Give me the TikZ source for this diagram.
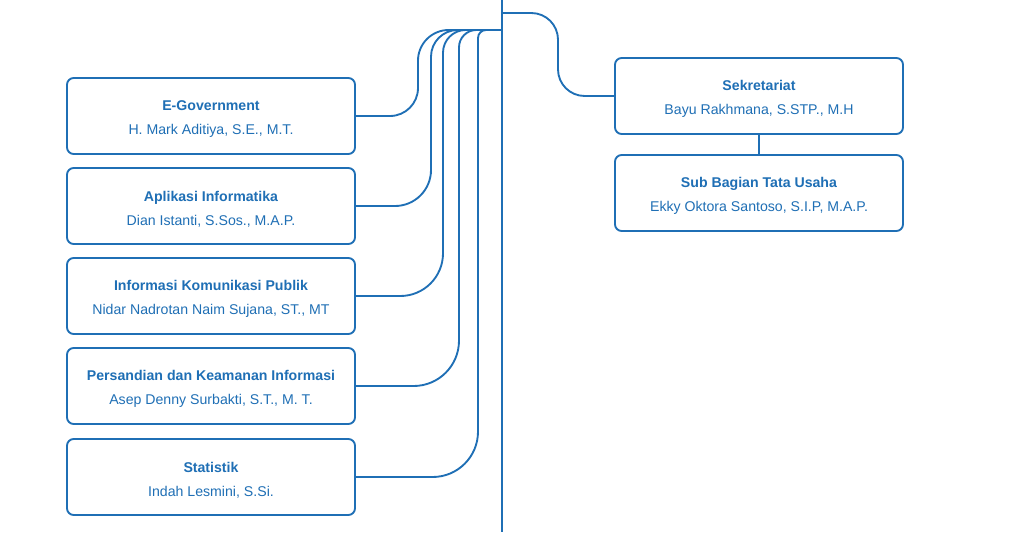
\documentclass[tikz,border=0pt]{standalone}
\usepackage{fontspec}
\setmainfont{Liberation Sans}
\usepackage{tikz}
\usepackage{xcolor}
\definecolor{orgblue}{RGB}{31, 111, 181}

\tikzset{
  unitbox/.style={draw=orgblue, line width=1.4pt, rounded corners=5pt, fill=white,
    minimum width=216pt, minimum height=57pt, align=center, text=orgblue,
    font=\fontsize{10.6}{18}\selectfont},
  link/.style={draw=orgblue, line width=1.4pt}
}
\newcommand{\unittext}[2]{\rule{0pt}{12.5pt}\textbf{#1}\\#2}

\begin{document}
\begin{tikzpicture}[x=0.75pt, y=-0.75pt]
  \useasboundingbox (0,0) rectangle (1024,532);

  % main trunk
  \coordinate (trunktop) at (502,0);
  \coordinate (trunkbot) at (502,532);
  \coordinate (hub) at (502,30);
  \coordinate (hubr) at (502,13);
  \draw[link] (trunktop) -- (trunkbot);

  % units on the left
  \node[unitbox] (egov) at (211,116) {\unittext{E-Government}{H. Mark Aditiya, S.E., M.T.}};
  \node[unitbox] (apl) at (211,206) {\unittext{Aplikasi Informatika}{Dian Istanti, S.Sos., M.A.P.}};
  \node[unitbox] (ikp) at (211,296) {\unittext{Informasi Komunikasi Publik}{Nidar Nadrotan Naim Sujana, ST., MT}};
  \node[unitbox] (sandi) at (211,386) {\unittext{Persandian dan Keamanan Informasi}{Asep Denny Surbakti, S.T., M. T.}};
  \node[unitbox] (stat) at (211,477) {\unittext{Statistik}{Indah Lesmini, S.Si.}};

  % units on the right
  \node[unitbox] (sekr) at (759,96) {\unittext{Sekretariat}{Bayu Rakhmana, S.STP., M.H}};
  \node[unitbox] (tu) at (759,193) {\unittext{Sub Bagian Tata Usaha}{Ekky Oktora Santoso, S.I.P, M.A.P.}};

  % connectors to the trunk
  \draw[link, rounded corners=21pt] (egov.east) -- (418,116) [rounded corners=23pt] -- (418,30) -- (hub);
  \draw[link, rounded corners=27pt] (apl.east) -- (431,206) [rounded corners=20pt] -- (431,30) -- (hub);
  \draw[link, rounded corners=32pt] (ikp.east) -- (443,296) [rounded corners=17pt] -- (443,30) -- (hub);
  \draw[link, rounded corners=34pt] (sandi.east) -- (459,386) [rounded corners=13pt] -- (459,30) -- (hub);
  \draw[link, rounded corners=34pt] (stat.east) -- (478,477) [rounded corners=6pt] -- (478,30) -- (hub);

  \draw[link, rounded corners=20pt] (hubr) -- (558,13) -- (558,96) -- (sekr.west);
  \draw[link] (sekr.south) -- (tu.north);
\end{tikzpicture}
\end{document}
